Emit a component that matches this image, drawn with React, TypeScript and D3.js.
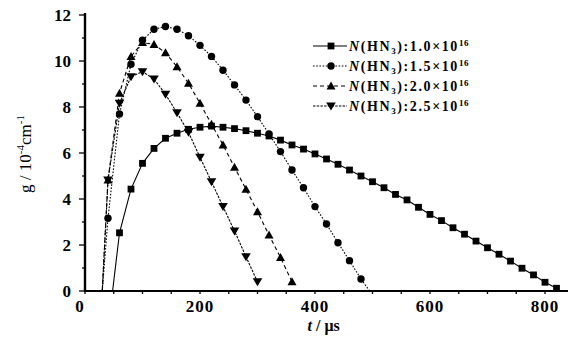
import React from "react";
import * as d3 from "d3";

// t (µs) and g (10^-4 cm^-1)
const t10 = [60, 80, 100, 120, 140, 160, 180, 200, 220, 240, 260, 280, 300, 320, 340, 360, 380, 400, 420, 440, 460, 480, 500, 520, 540, 560, 580, 600, 620, 640, 660, 680, 700, 720, 740, 760, 780, 800, 820];
const g10 = [2.53, 4.43, 5.55, 6.2, 6.64, 6.86, 7.03, 7.12, 7.17, 7.12, 7.06, 6.97, 6.86, 6.74, 6.56, 6.35, 6.17, 5.96, 5.74, 5.51, 5.26, 5.0, 4.75, 4.49, 4.2, 3.96, 3.64, 3.33, 3.06, 2.75, 2.47, 2.17, 1.88, 1.6, 1.3, 0.99, 0.7, 0.38, 0.12];

const t15 = [40, 60, 80, 100, 120, 140, 160, 180, 200, 220, 240, 260, 280, 300, 320, 340, 360, 380, 400, 420, 440, 460, 480];
const g15 = [3.16, 7.7, 9.86, 10.9, 11.38, 11.5, 11.38, 11.1, 10.68, 10.2, 9.6, 8.96, 8.3, 7.58, 6.83, 6.06, 5.26, 4.49, 3.67, 2.91, 2.1, 1.32, 0.52];

const t20 = [40, 60, 80, 100, 120, 140, 160, 180, 200, 220, 240, 260, 280, 300, 320, 340, 360];
const g20 = [4.83, 8.6, 10.2, 10.8, 10.72, 10.36, 9.75, 9.03, 8.16, 7.25, 6.35, 5.38, 4.42, 3.45, 2.43, 1.46, 0.4];

const t25 = [40, 60, 80, 100, 120, 140, 160, 180, 200, 220, 240, 260, 280, 300];
const g25 = [4.83, 8.16, 9.32, 9.53, 9.22, 8.55, 7.75, 6.9, 5.81, 4.75, 3.67, 2.61, 1.49, 0.4];

// where the curves leave / reach the axis (line only, no marker)
const onset = { s10: 48, s15: 30, s20: 30, s25: 30 };
const end15 = 495;

const legendLabels = ["1.0", "1.5", "2.0", "2.5"];
const xTicks = [0, 200, 400, 600, 800];
const yTicks = [0, 2, 4, 6, 8, 10, 12];

const W = 576;
const H = 347;
const x = d3.scaleLinear().domain([0, 840]).range([85, 568]);
const y = d3.scaleLinear().domain([0, 12]).range([291, 15]);
const font = "'Liberation Serif', 'DejaVu Serif', serif";

type Pt = { t: number; g: number };
const zip = (ts: number[], gs: number[]): Pt[] => ts.map((t, i) => ({ t, g: gs[i] }));

const line = d3
  .line<Pt>()
  .x((d) => x(d.t))
  .y((d) => y(d.g));

const series = [
  { key: "s10", pts: zip(t10, g10), start: onset.s10, end: null as number | null, shape: "square", dash: "none" },
  { key: "s15", pts: zip(t15, g15), start: onset.s15, end: end15, shape: "circle", dash: "1.6,1.6" },
  { key: "s20", pts: zip(t20, g20), start: onset.s20, end: null, shape: "tri", dash: "4,3" },
  { key: "s25", pts: zip(t25, g25), start: onset.s25, end: null, shape: "itri", dash: "2.5,1.2" },
];

function Marker({ shape, cx, cy }: { shape: string; cx: number; cy: number }) {
  if (shape === "square") return <rect x={cx - 3.4} y={cy - 3.4} width={6.8} height={6.8} fill="#000" />;
  if (shape === "circle") return <circle cx={cx} cy={cy} r={3.7} fill="#000" />;
  if (shape === "tri")
    return <path d={`M${cx},${cy - 4.5}L${cx + 4.5},${cy + 3.5}L${cx - 4.5},${cy + 3.5}Z`} fill="#000" />;
  return <path d={`M${cx},${cy + 4.5}L${cx + 4.8},${cy - 3.5}L${cx - 4.8},${cy - 3.5}Z`} fill="#000" />;
}

export default function App() {
  const xMinor = d3.range(0, 841, 50);
  const yMinor = d3.range(0, 12.5, 1);

  return (
    <svg width={W} height={H} style={{ position: "absolute", left: 0, top: 0, background: "#fff" }} fontFamily={font}>
      {/* curves */}
      {series.map((s) => {
        const full: Pt[] = [{ t: s.start, g: 0 }, ...s.pts];
        if (s.end !== null) full.push({ t: s.end, g: 0 });
        return (
          <g key={s.key}>
            <path d={line(full) || ""} fill="none" stroke="#000" strokeWidth={1.1} strokeDasharray={s.dash} />
            {s.pts.map((p, i) => (
              <Marker key={i} shape={s.shape} cx={x(p.t)} cy={y(p.g)} />
            ))}
          </g>
        );
      })}

      {/* x axis */}
      <line x1={x(0) - 1} x2={x(840)} y1={y(0)} y2={y(0)} stroke="#000" strokeWidth={2} />
      {xMinor.map((v) => (
        <line key={v} x1={x(v)} x2={x(v)} y1={y(0)} y2={y(0) + 3} stroke="#000" strokeWidth={1.3} />
      ))}
      {xTicks.map((v) => (
        <text key={v} x={v === 0 ? x(v) - 5 : x(v)} y={312} textAnchor="middle" fontSize={17} fontWeight="bold" letterSpacing={1}>
          {v}
        </text>
      ))}
      <text x={x(415)} y={331} textAnchor="middle" fontSize={16} fontWeight="bold">
        <tspan fontStyle="italic">t</tspan> / μs
      </text>

      {/* y axis */}
      <line x1={x(0)} x2={x(0)} y1={y(0) + 1} y2={y(12) - 2} stroke="#000" strokeWidth={2.4} />
      {yMinor.map((v) => (
        <line
          key={v}
          x1={x(0) - (v % 2 === 0 ? 6 : 3)}
          x2={x(0)}
          y1={y(v)}
          y2={y(v)}
          stroke="#000"
          strokeWidth={1.3}
        />
      ))}
      {yTicks.map((v) => (
        <text key={v} x={71} y={y(v) + 6} textAnchor="end" fontSize={17} fontWeight="bold">
          {v}
        </text>
      ))}
      <text transform={`translate(31,${154}) rotate(-90)`} textAnchor="middle" fontSize={17}>
        g / 10
        <tspan dy={-7} fontSize={11}>
          -4
        </tspan>
        <tspan dy={7}>cm</tspan>
        <tspan dy={-7} fontSize={11}>
          -1
        </tspan>
      </text>

      {/* legend */}
      {series.map((s, i) => {
        const ly = 46 + i * 20;
        return (
          <g key={s.key}>
            <line x1={313} x2={347} y1={ly} y2={ly} stroke="#000" strokeWidth={1.1} strokeDasharray={s.dash} />
            <Marker shape={s.shape} cx={331} cy={ly} />
            <text x={349} y={ly + 5} fontSize={14} fontWeight="bold" letterSpacing={1.6}>
              <tspan fontStyle="italic">N</tspan>(HN
              <tspan dy={3} fontSize={9}>
                3
              </tspan>
              <tspan dy={-3}>):{legendLabels[i]}×10</tspan>
              <tspan dy={-5} fontSize={9} letterSpacing={0.5}>
                16
              </tspan>
            </text>
          </g>
        );
      })}
    </svg>
  );
}
